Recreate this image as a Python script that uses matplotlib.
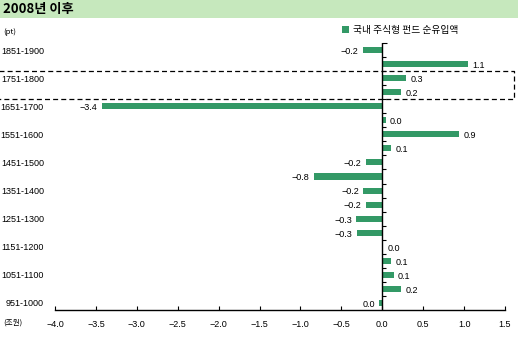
import numpy as np
import matplotlib
matplotlib.use('Agg')
import matplotlib.pyplot as plt
from matplotlib.patches import Rectangle
import matplotlib.transforms as mtransforms

plt.rcParams['font.family'] = ['Noto Sans CJK KR', 'DejaVu Sans']
plt.rcParams['hatch.color'] = '#e6f6e2'
plt.rcParams['hatch.linewidth'] = 1.0

# categories from bottom to top
categories = ['951-1000', '1001-1050', '1051-1100', '1101-1150', '1151-1200',
              '1201-1250', '1251-1300', '1301-1350', '1351-1400', '1401-1450',
              '1451-1500', '1501-1550', '1551-1600', '1601-1650', '1651-1700',
              '1701-1750', '1751-1800', '1801-1850', '1851-1900']
flows = [-0.04, 0.23, 0.14, 0.11, 0.01,
         -0.31, -0.32, -0.20, -0.23, -0.84,
         -0.20, 0.11, 0.94, 0.04, -3.43,
         0.23, 0.29, 1.05, -0.24]
xticks = [-4.0, -3.5, -3.0, -2.5, -2.0, -1.5, -1.0, -0.5, 0.0, 0.5, 1.0, 1.5]
title = '2008년 이후'
legend_label = '국내 주식형 펀드 순유입액'
highlight = ['1701-1750', '1751-1800']

bar_color = '#339966'
num_font = 'Liberation Sans'


def fmt(v):
    txt = f'{v:.1f}'
    if txt == '-0.0':
        txt = '0.0'
    return txt.replace('-', '\u2212')


fig = plt.figure(figsize=(5.18, 3.38), dpi=100)
ax = fig.add_axes([55 / 518, 1 - 310 / 338, 450 / 518, 267 / 338])

y = np.arange(len(categories))
ax.barh(y, flows, height=0.43, color=bar_color, label=legend_label)

# value labels
for yi, v in zip(y, flows):
    if v >= 0:
        ax.annotate(fmt(v), (v, yi), xytext=(3, -1), textcoords='offset points',
                    ha='left', va='center', fontsize=6.5, family=num_font)
    else:
        ax.annotate(fmt(v), (v, yi), xytext=(-3, -1), textcoords='offset points',
                    ha='right', va='center', fontsize=6.5, family=num_font)

ax.set_xlim(-4.0, 1.5)
ax.set_ylim(-0.5, len(categories) - 0.5)
ax.set_xticks(xticks)
ax.set_xticklabels([fmt(t) for t in xticks], fontsize=6.5, family=num_font)
ax.tick_params(axis='x', direction='in', length=3, width=0.8, pad=7)
ax.set_yticks(y[::2])
ax.set_yticklabels(categories[::2], fontsize=6.5, family=num_font)
ax.tick_params(axis='y', length=0, pad=8)

for s in ['top', 'right', 'left']:
    ax.spines[s].set_visible(False)
ax.spines['bottom'].set_linewidth(1.0)

# zero line with small boundary ticks
ax.axvline(0, color='black', lw=1.0)
ax.hlines(y[:-1] + 0.5, 0, 0.04, color='black', lw=0.8)
ax.hlines(len(categories) - 0.5, 0, 0.06, color='black', lw=0.8, clip_on=False)

# dashed box around highlighted rows
i0 = categories.index(highlight[0])
i1 = categories.index(highlight[1])
trans = mtransforms.blended_transform_factory(ax.transAxes, ax.transData)
xl, xr = -0.13, 1.02
ax.plot([xl, xr, xr, xl], [i1 + 0.5, i1 + 0.5, i0 - 0.5, i0 - 0.5],
        transform=trans, color='black', lw=0.9, ls=(0, (4, 2.5)), clip_on=False)

# title strip
fig.patches.append(Rectangle((0, 1 - 18 / 338), 1, 18 / 338, transform=fig.transFigure,
                             facecolor='#c6e8bd', edgecolor='none', hatch='..'))
fig.text(3 / 518, 1 - 9 / 338, title, fontsize=9.5, fontweight='bold', va='center', ha='left')

fig.text(3 / 518, 1 - 32 / 338, '(pt)', fontsize=5.5, va='center', ha='left')
fig.text(3 / 518, 1 - 323 / 338, '(조원)', fontsize=5.5, va='center', ha='left')

ax.legend(loc='center left', bbox_to_anchor=(337 / 518, 1 - 30 / 338),
          bbox_transform=fig.transFigure, frameon=False, fontsize=7,
          handlelength=0.7, handleheight=0.7, handletextpad=0.4, borderpad=0)

fig.savefig('out.png', dpi=100)
